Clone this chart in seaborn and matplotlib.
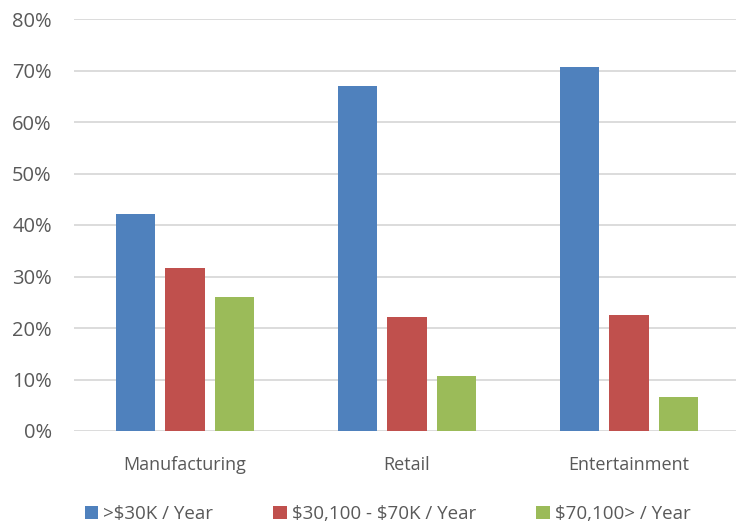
import pandas as pd
import seaborn as sns
import matplotlib
matplotlib.use('Agg')
import matplotlib.pyplot as plt
from matplotlib.patches import Patch
from matplotlib.ticker import PercentFormatter

# Data
industries = ["Manufacturing", "Retail", "Entertainment"]
income_groups = [">$30K / Year", "$30,100 - $70K / Year", "$70,100> / Year"]
low_income = [42.2, 67.0, 70.7]
mid_income = [31.6, 22.2, 22.5]
high_income = [26.0, 10.6, 6.6]
colors = ["#4F81BD", "#C0504D", "#9BBB59"]

# Long-form table for seaborn
rows = []
for group, values in zip(income_groups, [low_income, mid_income, high_income]):
    for industry, value in zip(industries, values):
        rows.append({"Industry": industry, "Group": group, "Share": value})
df = pd.DataFrame(rows)

sns.set_theme(style="white")
plt.rcParams['font.family'] = ['Open Sans', 'DejaVu Sans']
plt.rcParams['text.parse_math'] = False  # keep the dollar signs literal

fig = plt.figure(figsize=(7.36, 5.24), dpi=100)
ax = fig.add_axes([74 / 736, 93 / 524, 666 / 736, 412 / 524])

sns.barplot(data=df, x="Industry", y="Share", hue="Group", order=industries,
            hue_order=income_groups, palette=colors, width=0.667, gap=0.2,
            linewidth=0, saturation=1, ax=ax, zorder=3)

ax.set_ylim(0, 80)
ax.set_xlim(-0.5, 2.5)
ax.set_yticks(range(0, 81, 10))
ax.yaxis.set_major_formatter(PercentFormatter(decimals=0))
ax.grid(axis='y', color='#D9D9D9', linewidth=1.3, zorder=0)
ax.set_axisbelow(True)
for side in ['top', 'right', 'left', 'bottom']:
    ax.spines[side].set_visible(False)
ax.set_xlabel("")
ax.set_ylabel("")
ax.tick_params(axis='y', length=0, pad=16, labelsize=14.5, labelcolor='#595959')
ax.tick_params(axis='x', length=0, pad=18, labelsize=13, labelcolor='#595959')

ax.get_legend().remove()
handles = [Patch(facecolor=c, edgecolor='none') for c in colors]
fig.legend(handles, income_groups,
           loc='lower center', bbox_to_anchor=(0.527, -0.03),
           ncol=3, frameon=False, fontsize=13.5, labelcolor='#595959',
           handlelength=0.7, handleheight=0.7, handletextpad=0.3, columnspacing=3.2)

fig.savefig("out.png", dpi=100)
